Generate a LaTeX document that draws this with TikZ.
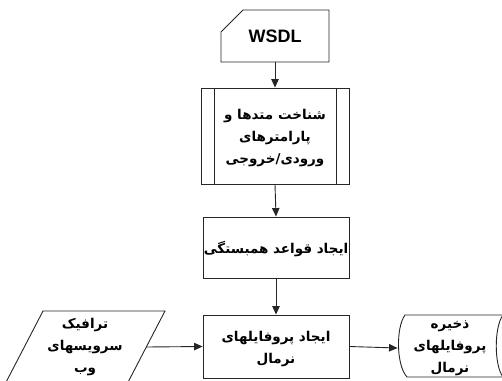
\documentclass[tikz,border=0pt]{standalone}
\usepackage{fontspec}
\setmainfont{Liberation Sans}
\newfontfamily\fa[Script=Arabic]{DejaVu Sans Bold}
\TeXXeTstate=1
\usetikzlibrary{arrows.meta}
\begin{document}
\begin{tikzpicture}[x=1pt,y=-1pt,
  line width=0.9pt,
  shapeline/.style={draw=black!85, line width=0.9pt},
  txt/.style={font=\fa\fontsize{13.5}{22}\selectfont, align=center, inner sep=0pt},
  arr/.style={draw=black!85, line width=0.9pt, -{Triangle[length=8.5pt,width=7.5pt]}}]
\useasboundingbox (0,0) rectangle (502,380);
\clip (0,0) rectangle (502,380);
% WSDL card
\node[inner sep=0pt, minimum width=108pt, minimum height=52pt, font=\bfseries\fontsize{18}{20}\selectfont] (wsdl) at (275,36) {WSDL};
\draw[shapeline] (221,62) -- (329,62) -- (329,10) -- (243,10) -- (221,32) -- cycle;
% predefined process
\node[shapeline, minimum width=148pt, minimum height=96pt, inner sep=0pt] (methods) at (275,136) {};
\draw[shapeline] (214,88) -- (214,184) (336,88) -- (336,184);
\node[txt] at (275,138) {\beginR شناخت متدها و\endR\\\beginR پارامترهای\endR\\\beginR ورودی/خروجی\endR};
% rules
\node[shapeline, minimum width=146pt, minimum height=61pt, inner sep=0pt] (rules) at (276,247.5) {};
\node[txt] at (276,249) {\beginR ایجاد قواعد همبستگی\endR};
% profiles
\node[shapeline, minimum width=146pt, minimum height=63pt, inner sep=0pt] (profiles) at (276,346.5) {};
\node[txt] at (276,349) {\beginR ایجاد پروفایلهای\endR\\\beginR نرمال\endR};
% traffic (parallelogram)
\draw[shapeline] (43,311) -- (165,311) -- (127.6,383) -- (5.6,383) -- cycle;
\node[txt, minimum width=122pt, minimum height=20pt] (traffic) at (85,347) {\beginR ترافیک\endR\\\beginR سرویسهای\endR\\\beginR وب\endR};
\coordinate (trafficE) at (146,347);
% storage
\draw[shapeline] (405,315) -- (503,315) .. controls (494,327) and (494,365) .. (503,377) -- (407,377) .. controls (396,365) and (396,327) .. (405,315) -- cycle;
\node[txt, minimum width=104pt] (store) at (450,348) {\beginR ذخیره\endR\\\beginR پروفایلهای\endR\\\beginR نرمال\endR};
% connectors
\draw[arr] (wsdl.south) -- (methods.north);
\draw[arr] (methods.south) -- (rules.north);
\draw[arr] (rules.south) -- (profiles.north);
\draw[arr] (trafficE) -- (profiles.west);
\draw[arr] (profiles.east) -- (store.west);
\end{tikzpicture}
\end{document}
